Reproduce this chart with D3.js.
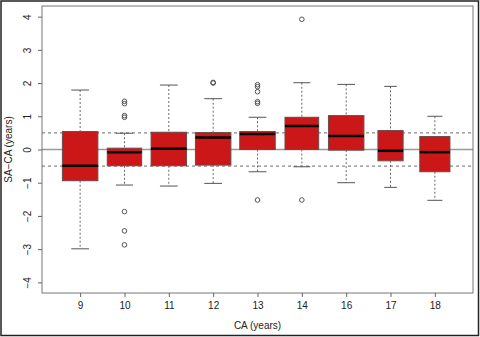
<!DOCTYPE html>
<html><head><meta charset="utf-8">
<script src="https://cdn.jsdelivr.net/npm/d3@7"></script>
<style>html,body{margin:0;padding:0;background:#fff;}svg{display:block;font-family:"Liberation Sans",Arial,sans-serif;}</style>
</head><body><svg id="c" width="480" height="337"></svg>
<script>
const categories = ["9","10","11","12","13","14","16","17","18"];
const lowerWhisker = [-2.99,-1.07,-1.10,-1.02,-0.67,-0.52,-1.00,-1.14,-1.53];
const q1          = [-0.94,-0.49,-0.49,-0.47, 0.00, 0.00,-0.02,-0.34,-0.67];
const medians     = [-0.49,-0.08, 0.02, 0.36, 0.47, 0.71, 0.41,-0.04,-0.08];
const q3          = [ 0.54, 0.04, 0.52, 0.51, 0.54, 0.97, 1.02, 0.57, 0.39];
const upperWhisker= [ 1.79, 0.49, 1.94, 1.53, 0.97, 2.01, 1.96, 1.90, 1.00];
const relWidth    = [ 1.00, 0.97, 1.00, 1.00, 1.00, 0.95, 1.00, 0.71, 0.85];
const outliers = [
  [],
  [1.45,1.38,1.02,0.97,-1.87,-2.45,-2.87],
  [],
  [2.02,2.00],
  [1.95,1.89,1.74,1.44,1.39,-1.52],
  [3.92,-1.52],
  [],[],[]
];
const yTicks = [-4,-3,-2,-1,0,1,2,3,4];
const refLines = [-0.5,0.5];

const svg = d3.select("#c");
const L=42,R=473,T=6,B=293;
const x = d3.scaleLinear().domain([0.14,9.86]).range([L,R]);
const y = d3.scaleLinear().domain([-4.32,4.32]).range([B,T]);
const boxW = 0.8*(x(2)-x(1));

// outer frame
svg.append("rect").attr("x",1).attr("y",1).attr("width",477.5).attr("height",334.5)
  .attr("fill","none").attr("stroke","#222").attr("stroke-width",1.5);

// reference lines
svg.append("line").attr("x1",L).attr("x2",R).attr("y1",y(0)).attr("y2",y(0))
  .attr("stroke","#999").attr("stroke-width",1.5);
svg.selectAll(".ref").data(refLines).enter().append("line")
  .attr("x1",L).attr("x2",R).attr("y1",d=>y(d)).attr("y2",d=>y(d))
  .attr("stroke","#444").attr("stroke-width",0.8).attr("stroke-dasharray","3,3");

const g = svg.selectAll(".bx").data(categories).enter().append("g");
g.each(function(c,i){
  const s=d3.select(this), cx=x(i+1), w=boxW*relWidth[i];
  // whiskers
  [[upperWhisker[i],q3[i]],[q1[i],lowerWhisker[i]]].forEach(([a,b])=>{
    s.append("line").attr("x1",cx).attr("x2",cx).attr("y1",y(a)).attr("y2",y(b))
      .attr("stroke","#666").attr("stroke-width",1).attr("stroke-dasharray","2,2");
  });
  [upperWhisker[i],lowerWhisker[i]].forEach(v=>{
    s.append("line").attr("x1",cx-w/4).attr("x2",cx+w/4).attr("y1",y(v)).attr("y2",y(v))
      .attr("stroke","#555").attr("stroke-width",1);
  });
  s.append("rect").attr("x",cx-w/2).attr("width",w).attr("y",y(q3[i])).attr("height",y(q1[i])-y(q3[i]))
    .attr("fill","#cc1719").attr("stroke","#6b4a4a").attr("stroke-width",1);
  s.append("line").attr("x1",cx-w/2).attr("x2",cx+w/2).attr("y1",y(medians[i])).attr("y2",y(medians[i]))
    .attr("stroke","#000").attr("stroke-width",2.5);
  outliers[i].forEach(v=>{
    s.append("circle").attr("cx",cx).attr("cy",y(v)).attr("r",2.3)
      .attr("fill","none").attr("stroke","#444").attr("stroke-width",0.9);
  });
});

// plot box
svg.append("rect").attr("x",L).attr("y",T).attr("width",R-L).attr("height",B-T)
  .attr("fill","none").attr("stroke","#777").attr("stroke-width",1);

// y axis
const ya = svg.append("g").attr("transform",`translate(${L},0)`)
  .call(d3.axisLeft(y).tickValues(yTicks).tickSize(4).tickFormat(d=>d<0?"\u2212"+(-d):d));
ya.select(".domain").remove();
ya.selectAll(".tick line").attr("stroke","#666");
ya.selectAll(".tick text").attr("font-size",10).attr("fill","#222")
  .attr("x",0).attr("dy",0).attr("text-anchor","middle")
  .attr("transform","translate(-11,0) rotate(-90)");

// x axis
const xa = svg.append("g").attr("transform",`translate(0,${B})`)
  .call(d3.axisBottom(x).tickValues(d3.range(1,categories.length+1)).tickSize(4).tickFormat(d=>categories[d-1]));
xa.select(".domain").remove();
xa.selectAll(".tick line").attr("stroke","#666");
xa.selectAll(".tick text").attr("font-size",10).attr("fill","#222").attr("y",9);

svg.append("text").attr("x",(L+R)/2).attr("y",329).attr("text-anchor","middle")
  .attr("font-size",10).attr("fill","#222").text("CA (years)");
svg.append("text").attr("transform",`translate(12,${(T+B)/2}) rotate(-90)`).attr("text-anchor","middle")
  .attr("font-size",10).attr("fill","#222").text("SA\u2212CA (years)");
</script></body></html>
